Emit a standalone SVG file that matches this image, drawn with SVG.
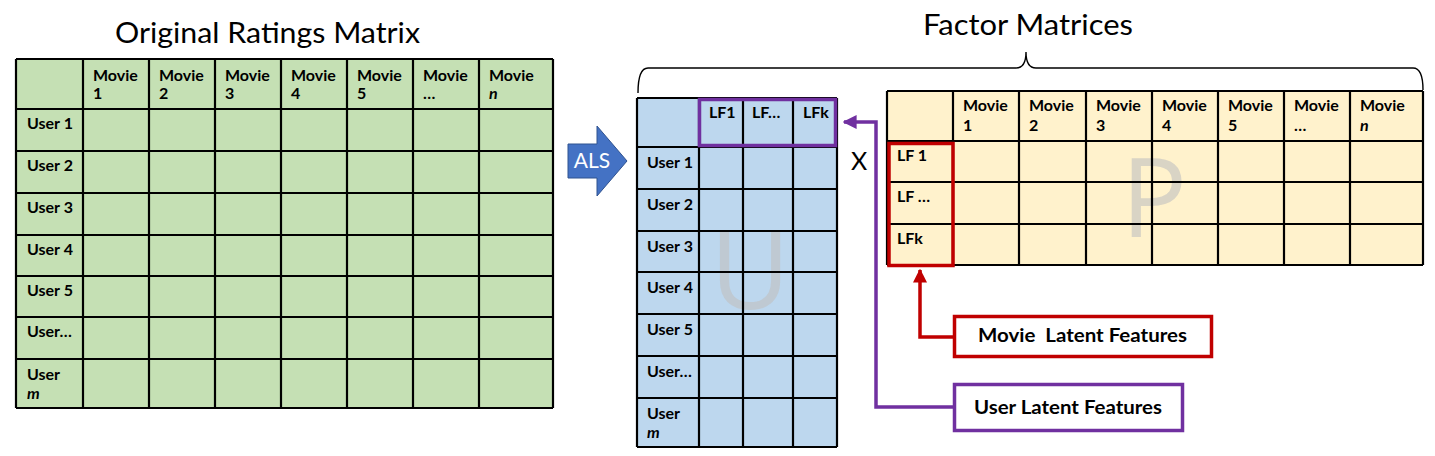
<svg xmlns="http://www.w3.org/2000/svg" width="1435" height="456" viewBox="0 0 1435 456">
<style>
.grid{stroke:#000;stroke-width:2.2;fill:none}
.lbl{font-family:Lato,"Open Sans","Liberation Sans",sans-serif;font-weight:bold;font-size:16px;fill:#000}
.it{font-style:italic}
.title{font-family:Lato,"Open Sans","Liberation Sans",sans-serif;font-size:29px;fill:#000}
.big{font-family:"Open Sans",Lato,sans-serif;font-size:110px;fill:#BFBFBF;fill-opacity:0.6}
.call{font-family:Lato,"Open Sans","Liberation Sans",sans-serif;font-weight:bold;font-size:19px;fill:#000}
</style>
<defs>
<marker id="ahR" viewBox="0 0 10 10" refX="9" refY="5" markerWidth="4" markerHeight="4" orient="auto" markerUnits="strokeWidth"><path d="M0 0 L10 5 L0 10 Z" fill="#C00000"/></marker>
<marker id="ahP" viewBox="0 0 10 10" refX="9" refY="5" markerWidth="4" markerHeight="4" orient="auto" markerUnits="strokeWidth"><path d="M0 0 L10 5 L0 10 Z" fill="#7030A0"/></marker>
</defs>
<rect width="1435" height="456" fill="#fff"/>

<g id="title-left"><text class="title" x="115" y="43" textLength="305" lengthAdjust="spacingAndGlyphs">Original Ratings Matrix</text></g>
<g id="title-right"><text class="title" x="923" y="35" textLength="210" lengthAdjust="spacingAndGlyphs">Factor Matrices</text>
<path d="M638 93 Q638 68 648 68 H1016 Q1026 68 1026 52 Q1026 68 1036 68 H1413 Q1423 68 1423 90" fill="none" stroke="#000" stroke-width="1.4"/></g>

<g id="ratings-matrix">
<rect x="16" y="59" width="537" height="349" fill="#C5E0B4"/>
<path class="grid" d="M16 59V408M83 59V408M149 59V408M215 59V408M281 59V408M347 59V408M413 59V408M479 59V408M553 59V408M16 59H553M16 109H553M16 151H553M16 193H553M16 235H553M16 276H553M16 317H553M16 359H553M16 408H553"/>
<g class="lbl">
<text x="93" y="81">Movie</text><text x="93" y="99">1</text>
<text x="159" y="81">Movie</text><text x="159" y="99">2</text>
<text x="225" y="81">Movie</text><text x="225" y="99">3</text>
<text x="291" y="81">Movie</text><text x="291" y="99">4</text>
<text x="357" y="81">Movie</text><text x="357" y="99">5</text>
<text x="423" y="81">Movie</text><text x="423" y="99">…</text>
<text x="489" y="81">Movie</text><text x="489" y="99" class="it">n</text>
<text x="27" y="129">User 1</text>
<text x="27" y="171">User 2</text>
<text x="27" y="213">User 3</text>
<text x="27" y="255">User 4</text>
<text x="27" y="296">User 5</text>
<text x="27" y="337">User…</text>
<text x="27" y="380">User</text><text x="27" y="399" class="it">m</text>
</g>
</g>

<g id="als-arrow">
<polygon points="568,144 597,144 597,126 627,161 597,196 597,178 568,178" fill="#4472C4" stroke="#2F528F" stroke-width="1"/>
<text x="592" y="168" text-anchor="middle" font-family="Lato,'Open Sans',sans-serif" font-size="21" fill="#fff">ALS</text>
</g>

<g id="u-matrix">
<rect x="637" y="98" width="200" height="349" fill="#BDD7EE"/>
<text class="big" x="750" y="309" text-anchor="middle">U</text>
<path class="grid" d="M637 98V447M699 98V447M743 98V447M793 98V447M837 98V447M637 98H837M637 147H837M637 189H837M637 231H837M637 272H837M637 314H837M637 356H837M637 398H837M637 447H837"/>
<g class="lbl">
<text x="709" y="118">LF1</text>
<text x="752" y="118">LF…</text>
<text x="803" y="118">LFk</text>
<text x="647" y="168">User 1</text>
<text x="647" y="210">User 2</text>
<text x="647" y="252">User 3</text>
<text x="647" y="293">User 4</text>
<text x="647" y="335">User 5</text>
<text x="647" y="377">User…</text>
<text x="647" y="419">User</text><text x="647" y="438" class="it">m</text>
</g>
<rect x="699.5" y="99.5" width="136" height="46" fill="none" stroke="#7030A0" stroke-width="3.5"/>
</g>

<g id="times"><text x="859" y="170" text-anchor="middle" font-family="Lato,'Open Sans',sans-serif" font-size="25" fill="#000">X</text></g>

<g id="p-matrix">
<rect x="887" y="91" width="536" height="174" fill="#FFF2CC"/>
<text class="big" x="1154" y="237" text-anchor="middle">P</text>
<path class="grid" d="M887 91V265M953 91V265M1019 91V265M1086 91V265M1152 91V265M1218 91V265M1284 91V265M1350 91V265M1423 91V265M887 91H1423M887 141H1423M887 182H1423M887 224H1423M887 265H1423"/>
<g class="lbl">
<text x="963" y="111">Movie</text><text x="963" y="131">1</text>
<text x="1029" y="111">Movie</text><text x="1029" y="131">2</text>
<text x="1096" y="111">Movie</text><text x="1096" y="131">3</text>
<text x="1162" y="111">Movie</text><text x="1162" y="131">4</text>
<text x="1228" y="111">Movie</text><text x="1228" y="131">5</text>
<text x="1294" y="111">Movie</text><text x="1294" y="131">…</text>
<text x="1360" y="111">Movie</text><text x="1360" y="131" class="it">n</text>
<text x="897" y="161">LF 1</text>
<text x="897" y="202">LF …</text>
<text x="897" y="244">LFk</text>
</g>
<rect x="889" y="143.5" width="64" height="122" fill="none" stroke="#C00000" stroke-width="3.5"/>
</g>

<g id="connectors" fill="none" stroke-width="3.5">
<path d="M953 337 H920 V270" stroke="#C00000" marker-end="url(#ahR)"/>
<path d="M953 407 H876 V122 H844" stroke="#7030A0" marker-end="url(#ahP)"/>
</g>

<g id="movie-latent">
<rect x="954.5" y="316.5" width="257" height="40" fill="#fff" stroke="#C00000" stroke-width="3.5"/>
<text class="call" x="978" y="342" textLength="209" lengthAdjust="spacingAndGlyphs" xml:space="preserve">Movie  Latent Features</text>
</g>
<g id="user-latent">
<rect x="954.5" y="384.5" width="228" height="46" fill="#fff" stroke="#7030A0" stroke-width="3.5"/>
<text class="call" x="974" y="414" textLength="188" lengthAdjust="spacingAndGlyphs">User Latent Features</text>
</g>
</svg>
